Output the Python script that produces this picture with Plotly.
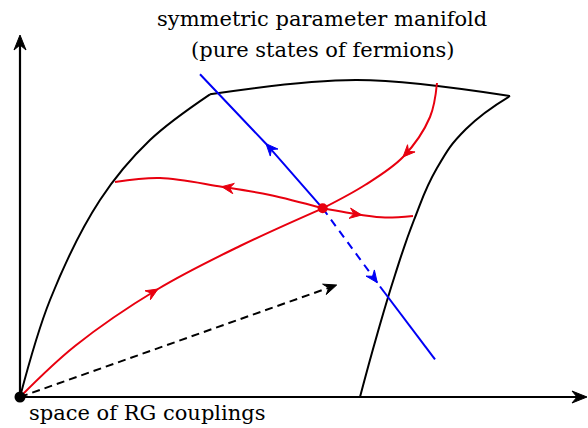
import numpy as np
import plotly.graph_objects as go

# ---- geometry of the diagram (picture units: x to the right, y downward) ----
origin = (20, 397)
x_axis_tip = (587, 397)
y_axis_tip = (20, 35)

manifold_left_x = [20, 50, 100, 150, 210]
manifold_left_y = [397, 300, 200, 140, 94.3]
manifold_top_x = [210, 357, 510]
manifold_top_y = [94.3, 80, 96]
manifold_right_x = [510, 466, 437, 414, 395, 377, 360]
manifold_right_y = [96, 129, 168, 220, 275, 335, 397]

fixed_point = (322.7, 208.3)

# RG flow lines (red), each listed in the direction of the flow
flow_a_x = [20, 75, 158, 240, 322.7]
flow_a_y = [397, 346, 289, 246, 208.3]
flow_b_x = [322.7, 270, 221.7, 160, 115]
flow_b_y = [208.3, 195, 186.7, 178, 182]
flow_c_x = [322.7, 361.7, 385, 413]
flow_c_y = [208.3, 215, 217.5, 216]
flow_d_x = [437, 430, 403, 365, 322.7]
flow_d_y = [83, 117, 157, 185, 208.3]

# blue line through the fixed point
blue_up_x = [322.7, 266, 200]
blue_up_y = [208.3, 143.7, 74.3]
blue_dash_x = [322.7, 377.3]
blue_dash_y = [208.3, 282.7]
blue_low_x = [380, 435]
blue_low_y = [286.5, 359.3]

# dashed black arrow
dashed_tip = (336.7, 285)

RED = "#e8000f"
BLUE = "#0000f5"
BLACK = "#000000"


def unit(dx, dy):
    n = np.hypot(dx, dy)
    return dx / n, dy / n


def stealth(tip, d, L=12, W=5.2, notch=4.0):
    dx, dy = d
    nx, ny = -dy, dx
    bx, by = tip[0] - L * dx, tip[1] - L * dy
    ix, iy = tip[0] - (L - notch) * dx, tip[1] - (L - notch) * dy
    pts = [tip, (bx + W * nx, by + W * ny), (ix, iy), (bx - W * nx, by - W * ny)]
    return "M " + " L ".join(f"{p[0]:.2f},{p[1]:.2f}" for p in pts) + " Z"


fig = go.Figure()
shapes = []


def line(xs, ys, color, dash="solid", spline=True, width=2, smoothing=1.0):
    fig.add_trace(go.Scatter(
        x=xs, y=ys, mode="lines",
        line=dict(color=color, width=width, dash=dash,
                  shape="spline" if spline else "linear", smoothing=smoothing),
        hoverinfo="skip", showlegend=False))


def head_on(xs, ys, i, color, L=12, W=5.2, notch=4.0):
    d = unit(xs[i + 1] - xs[i - 1], ys[i + 1] - ys[i - 1])
    shapes.append(dict(type="path", path=stealth((xs[i], ys[i]), d, L, W, notch),
                       xref="x", yref="y", fillcolor=color, line=dict(color=color, width=1)))


def arrow_line(start, tip, color, dash="solid", L=14, W=6, notch=4.5, width=2):
    d = unit(tip[0] - start[0], tip[1] - start[1])
    end = (tip[0] - (L - notch) * d[0], tip[1] - (L - notch) * d[1])
    line([start[0], end[0]], [start[1], end[1]], color, dash=dash, spline=False, width=width)
    shapes.append(dict(type="path", path=stealth(tip, d, L, W, notch),
                       xref="x", yref="y", fillcolor=color, line=dict(color=color, width=1)))


# axes
arrow_line(origin, x_axis_tip, BLACK, L=15, W=6, notch=5, width=2.2)
arrow_line(origin, y_axis_tip, BLACK, L=15, W=6, notch=5, width=2.2)

# manifold boundary
line(manifold_left_x, manifold_left_y, BLACK)
line(manifold_top_x, manifold_top_y, BLACK)
line(manifold_right_x, manifold_right_y, BLACK, smoothing=1.3)

# dashed black arrow
arrow_line(origin, dashed_tip, BLACK, dash="8px,5px", L=13, W=5.5, notch=4.5)

# blue line
line(blue_up_x, blue_up_y, BLUE, spline=False)
head_on(blue_up_x, blue_up_y, 1, BLUE)
line(blue_dash_x, blue_dash_y, BLUE, dash="8px,6px", spline=False)
d_blue = unit(blue_dash_x[1] - blue_dash_x[0], blue_dash_y[1] - blue_dash_y[0])
shapes.append(dict(type="path", path=stealth((blue_dash_x[1], blue_dash_y[1]), d_blue),
                   xref="x", yref="y", fillcolor=BLUE, line=dict(color=BLUE, width=1)))
line(blue_low_x, blue_low_y, BLUE, spline=False)

# red flows
for fx, fy, k in [(flow_a_x, flow_a_y, 2), (flow_b_x, flow_b_y, 2),
                  (flow_c_x, flow_c_y, 1), (flow_d_x, flow_d_y, 2)]:
    line(fx, fy, RED)
    head_on(fx, fy, k, RED)

# points
fig.add_trace(go.Scatter(x=[fixed_point[0]], y=[fixed_point[1]], mode="markers",
                         marker=dict(color=RED, size=10, line=dict(width=0)),
                         hoverinfo="skip", showlegend=False))
fig.add_trace(go.Scatter(x=[origin[0]], y=[origin[1]], mode="markers",
                         marker=dict(color=BLACK, size=11, line=dict(width=0)),
                         hoverinfo="skip", showlegend=False))

FONT = dict(family="DejaVu Serif", size=21, color=BLACK)
annotations = [
    dict(x=322, y=19, text="symmetric parameter manifold", showarrow=False,
         xanchor="center", yanchor="middle", font=FONT),
    dict(x=322, y=50, text="(pure states of fermions)", showarrow=False,
         xanchor="center", yanchor="middle", font=FONT),
    dict(x=27, y=413, text="space of RG couplings", showarrow=False,
         xanchor="left", yanchor="middle", font=FONT),
]

fig.update_layout(
    width=588, height=428, margin=dict(l=0, r=0, t=0, b=0),
    paper_bgcolor="white", plot_bgcolor="white",
    xaxis=dict(range=[0, 588], visible=False, fixedrange=True),
    yaxis=dict(range=[428, 0], visible=False, fixedrange=True),
    shapes=shapes, annotations=annotations,
)

fig.write_html("out.html", config={"displayModeBar": False},
               post_script="document.body.style.margin='0';document.body.style.overflow='hidden';")
